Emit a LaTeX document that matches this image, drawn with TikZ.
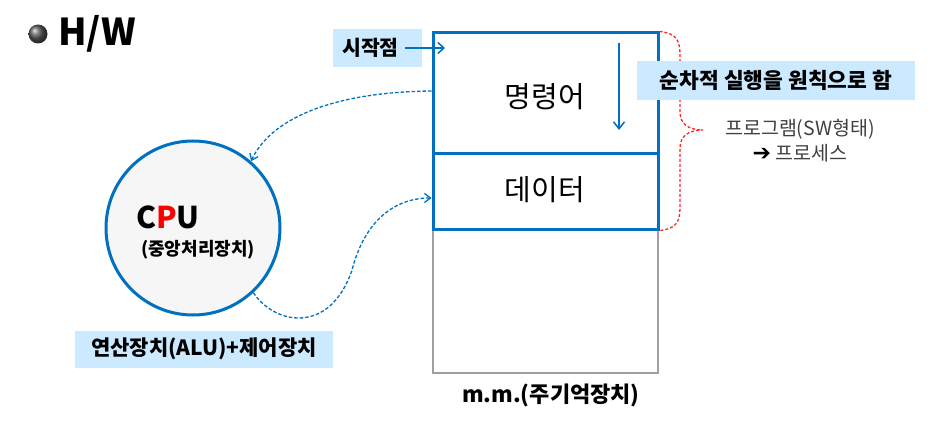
\documentclass[tikz,border=0pt]{standalone}
\usepackage{fontspec}
\setmainfont{Noto Sans CJK KR}
\newfontfamily\symfont{DejaVu Sans}
\usetikzlibrary{arrows.meta}
\definecolor{hwblue}{RGB}{0,112,192}
\definecolor{lblue}{RGB}{204,234,255}
\definecolor{memgray}{RGB}{160,160,160}
\definecolor{cpufill}{RGB}{246,246,246}
\tikzset{
  membox/.style={draw=hwblue, line width=3pt, minimum width=225pt, inner sep=0pt},
  memtext/.style={font=\fontsize{29}{32}\selectfont, inner sep=0pt},
  lbbox/.style={fill=lblue, inner sep=0pt},
  bluedash/.style={draw=hwblue, line width=1.3pt, dash pattern=on 3.5pt off 2pt, -{Straight Barb[length=6pt,width=9pt,line width=1.3pt]}},
  bluearrow/.style={draw=hwblue, line width=1.5pt, -{Straight Barb[length=6pt,width=11pt,line width=1.5pt]}},
  reddash/.style={draw=red!85, line width=1.3pt, dash pattern=on 3pt off 2pt},
}
\begin{document}
\begin{tikzpicture}[x=1pt,y=-1pt]
\useasboundingbox (0,0) rectangle (936,425);
% title
\shade[ball color=black!65] (38,34) circle (9.5);
\node[anchor=west, font=\bfseries\fontsize{37}{40}\selectfont, inner sep=0pt] (hw) at (58,34) {H/W};
% memory
\node[draw=memgray, line width=2.5pt, minimum width=225pt, minimum height=144pt, inner sep=0pt] (rest) at (545.5,301) {};
\node[membox, minimum height=120pt] (instr) at (545.5,93) {};
\node[membox, minimum height=76pt] (data) at (545.5,191) {};
\node[memtext] (instrt) at (545,97) {명령어};
\node[memtext] (datat) at (545,190) {데이터};
\node[font=\bfseries\fontsize{22}{26}\selectfont, inner sep=0pt] (mm) at (551,395) {m.m.(주기억장치)};
% start point
\node[lbbox, font=\bfseries\fontsize{20.5}{24}\selectfont, minimum width=89pt, minimum height=38pt] (start) at (377.5,48) {\hspace*{-14pt}시작점};
\coordinate (sp) at (445,48);
\draw[bluearrow] ([xshift=-17pt]start.east) -- (sp);
% down arrow
\coordinate (da1) at (619,43);
\coordinate (da2) at (619,130);
\draw[draw=hwblue, line width=1.5pt, -{Straight Barb[length=7pt,width=11pt,line width=1.5pt]}] (da1) -- (da2);
% brace
\draw[reddash] (instr.north east) .. controls (676,33) and (680,40) .. (680,55) -- (680,112) .. controls (680,125) and (690,130) .. (703,130) .. controls (690,130) and (680,135) .. (680,148) -- (680,207) .. controls (680,222) and (676,229) .. (data.south east);
\node[lbbox, font=\bfseries\fontsize{21.5}{24}\selectfont, minimum width=278pt, minimum height=39pt] (seq) at (776,80.5) {순차적 실행을 원칙으로 함};
\node[align=center, text=black!75, font=\fontsize{19.5}{25}\selectfont, inner sep=0pt] (prog) at (800,141) {프로그램(SW형태)\\ {\symfont\bfseries\color{black}\fontsize{22}{25}\selectfont ➔} 프로세스};
% CPU
\node[circle, draw=hwblue, fill=cpufill, line width=3pt, minimum size=174pt, inner sep=0pt] (cpu) at (193,228) {};
\node[font=\bfseries\fontsize{30}{34}\selectfont, inner sep=0pt] (cput) at (168,217) {C\textcolor{red}{P}U};
\node[font=\bfseries\fontsize{18}{22}\selectfont, inner sep=0pt] (cpus) at (198,250) {(중앙처리장치)};
\node[lbbox, font=\bfseries\fontsize{21}{24}\selectfont, minimum width=258pt, minimum height=37pt] (alu) at (204,349) {연산장치(ALU)+제어장치};
% dashed connectors
\draw[bluedash] (instr.west |- 0,91) .. controls (330,92) and (270,120) .. (cpu.49);
\draw[bluedash] (cpu.-47) .. controls (275,325) and (330,335) .. (352,270) .. controls (365,220) and (395,198) .. ([yshift=-7pt]data.west);
\end{tikzpicture}
\end{document}
